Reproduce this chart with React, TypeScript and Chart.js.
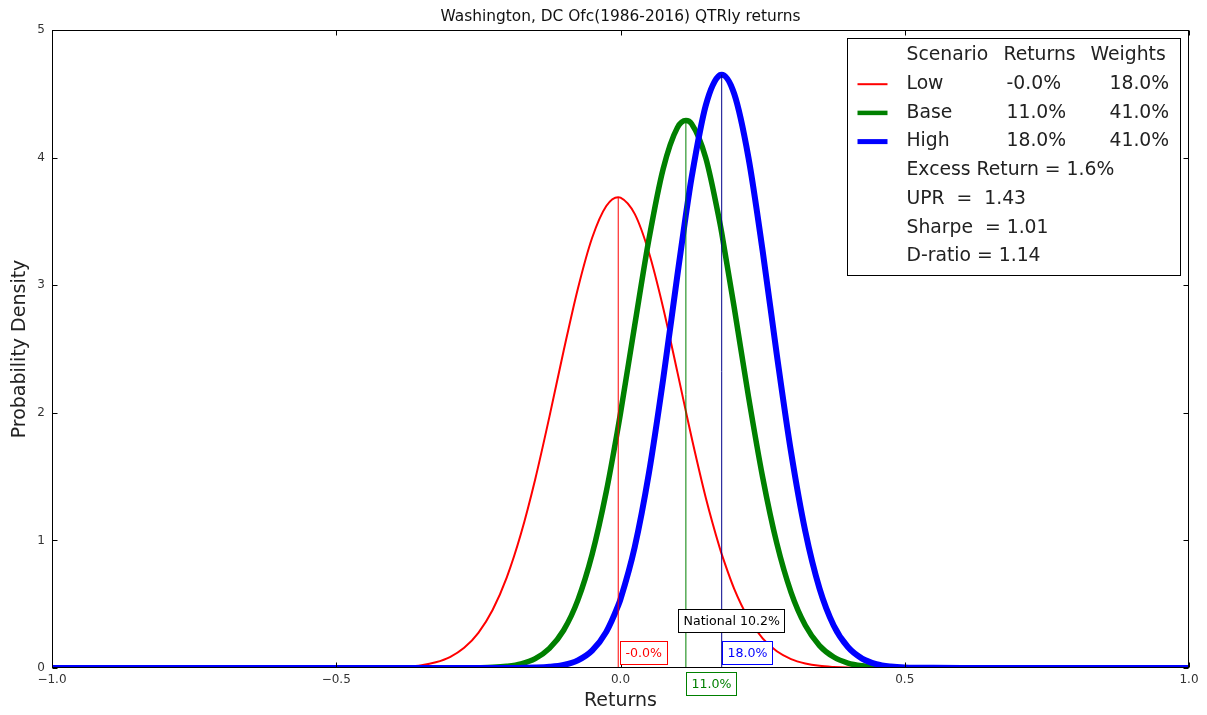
import React, { useEffect, useRef } from 'react';
import { Chart, registerables } from 'chart.js';

Chart.register(...registerables);

// ---- data ----
const returnsGrid = [
  -1.0, -0.6, -0.5, -0.45, -0.4, -0.375, -0.35, -0.325, -0.3, -0.275, -0.25, -0.225, -0.2, -0.175,
  -0.15, -0.125, -0.1, -0.075, -0.05, -0.025,
  -0.004, 0, 0.025, 0.05, 0.075, 0.1, 0.115, 0.125, 0.15, 0.175, 0.178,
  0.2, 0.225, 0.25, 0.275, 0.3, 0.325, 0.35, 0.375, 0.4, 0.425, 0.45, 0.475, 0.5,
  0.55, 0.6, 0.7, 1.0,
];
const lowDensity = [
  0, 0, 0, 0.001, 0.004, 0.01, 0.022, 0.045, 0.086, 0.158, 0.276, 0.455, 0.711, 1.054,
  1.48, 1.97, 2.486, 2.973, 3.37, 3.621,
  3.69, 3.687, 3.559, 3.256, 2.824, 2.321, 2.011, 1.808, 1.335, 0.934, 0.892,
  0.62, 0.39, 0.232, 0.131, 0.07, 0.036, 0.017, 0.008, 0.003, 0.001, 0, 0, 0,
  0, 0, 0, 0,
];
const baseDensity = [
  0, 0, 0, 0, 0, 0, 0, 0, 0, 0.001, 0.002, 0.005, 0.014, 0.033,
  0.074, 0.154, 0.296, 0.532, 0.889, 1.382,
  1.892, 1.997, 2.686, 3.36, 3.911, 4.234, 4.29, 4.265, 3.997, 3.484, 3.411,
  2.825, 2.131, 1.496, 0.976, 0.593, 0.335, 0.176, 0.086, 0.039, 0.017, 0.007, 0.002, 0.001,
  0, 0, 0, 0,
];
const highDensity = [
  0, 0, 0, 0, 0, 0, 0, 0, 0, 0, 0, 0, 0, 0.001,
  0.003, 0.009, 0.024, 0.06, 0.136, 0.283,
  0.49, 0.54, 0.948, 1.528, 2.262, 3.076, 3.551, 3.842, 4.409, 4.647, 4.65,
  4.5, 4.002, 3.27, 2.454, 1.692, 1.072, 0.624, 0.333, 0.164, 0.074, 0.031, 0.012, 0.004,
  0.001, 0, 0, 0,
];

const scenarioNames = ['Low', 'Base', 'High'];
const scenarioReturns = [-0.004, 0.115, 0.178];
const scenarioPeaks = [3.69, 4.29, 4.65];
const scenarioReturnLabels = ['-0.0%', '11.0%', '18.0%'];
const scenarioWeightLabels = ['18.0%', '41.0%', '41.0%'];
const statsLines = ['Excess Return = 1.6%', 'UPR  =  1.43', 'Sharpe  = 1.01', 'D-ratio = 1.14'];
const nationalReturn = 0.102;
const nationalLabel = 'National 10.2%';
const xTickValues = [-1.0, -0.5, 0.0, 0.5, 1.0];
const yTickValues = [0, 1, 2, 3, 4, 5];

const chartTitle = 'Washington, DC Ofc(1986-2016) QTRly returns';
const xAxisTitle = 'Returns';
const yAxisTitle = 'Probability Density';

// ---- styling ----
const FONT = '"DejaVu Sans", "Liberation Sans", sans-serif';
const scenarioColors = ['#ff0000', '#008000', '#0000ff'];
const meanLineColors = ['#ff0000', '#008000', '#00008b'];
const curveWidths = [2, 5.5, 6];
const legendSampleWidths = [2, 4.5, 5];
const scenarioLabelY = [0.12, -0.12, 0.12];
const scenarioLabelDx = [2, 0, 0];
const nationalLabelY = 0.37;

const fmtX = (v: number) => {
  const s = Math.abs(v).toFixed(1);
  return v < 0 ? '\u2212' + s : s;
};

const overlayPlugin = {
  id: 'overlay',
  afterDraw(chart: any) {
    const { ctx, chartArea: a, scales } = chart;
    const xs = scales.x;
    const ys = scales.y;
    ctx.save();

    // frame
    ctx.strokeStyle = '#000';
    ctx.lineWidth = 1;
    const L = Math.round(a.left) + 0.5;
    const R = Math.round(a.right) - 0.5;
    const T = Math.round(a.top) + 0.5;
    const B = Math.round(a.bottom) - 0.5;
    ctx.strokeRect(L, T, R - L, B - T);

    // inward tick marks on all four sides
    const tl = 5;
    ctx.beginPath();
    xTickValues.forEach((v) => {
      const px = Math.round(xs.getPixelForValue(v)) + 0.5;
      ctx.moveTo(px, B);
      ctx.lineTo(px, B - tl);
      ctx.moveTo(px, T);
      ctx.lineTo(px, T + tl);
    });
    yTickValues.forEach((v) => {
      const py = Math.round(ys.getPixelForValue(v)) + 0.5;
      ctx.moveTo(L, py);
      ctx.lineTo(L + tl, py);
      ctx.moveTo(R, py);
      ctx.lineTo(R - tl, py);
    });
    ctx.stroke();

    // title
    ctx.fillStyle = '#111';
    ctx.textAlign = 'center';
    ctx.textBaseline = 'middle';
    ctx.font = `15.4px ${FONT}`;
    ctx.fillText(chartTitle, (a.left + a.right) / 2, a.top - 13);

    // axis titles
    ctx.font = `19px ${FONT}`;
    ctx.fillStyle = '#222';
    ctx.fillText(xAxisTitle, (a.left + a.right) / 2, a.bottom + 33);
    ctx.save();
    ctx.translate(20, (a.top + a.bottom) / 2);
    ctx.rotate(-Math.PI / 2);
    ctx.fillText(yAxisTitle, 0, 0);
    ctx.restore();

    // annotation boxes
    const drawBox = (xv: number, dx: number, yv: number, text: string, color: string, textColor: string) => {
      ctx.font = `12.6px ${FONT}`;
      ctx.textAlign = 'left';
      ctx.textBaseline = 'middle';
      const w = Math.round(ctx.measureText(text).width + 10);
      const h = 23;
      const bx = Math.round(xs.getPixelForValue(xv) + dx) + 0.5;
      const cy = ys.getPixelForValue(yv);
      const by = Math.round(cy - h / 2) + 0.5;
      ctx.fillStyle = '#fff';
      ctx.fillRect(bx, by, w, h);
      ctx.strokeStyle = color;
      ctx.lineWidth = 1;
      ctx.strokeRect(bx, by, w, h);
      ctx.fillStyle = textColor;
      ctx.fillText(text, bx + 5, by + h / 2 + 0.5);
    };
    drawBox(nationalReturn, 0, nationalLabelY, nationalLabel, '#000', '#000');
    scenarioReturns.forEach((r, i) => {
      drawBox(r, scenarioLabelDx[i], scenarioLabelY[i], scenarioReturnLabels[i], scenarioColors[i], scenarioColors[i]);
    });

    // legend
    const lx = Math.round(a.right) - 342 + 0.5;
    const ly = Math.round(a.top) + 8 + 0.5;
    const lw = 333;
    const lh = 237;
    ctx.fillStyle = '#fff';
    ctx.fillRect(lx, ly, lw, lh);
    ctx.strokeStyle = '#000';
    ctx.lineWidth = 1;
    ctx.strokeRect(lx, ly, lw, lh);

    ctx.font = `18.8px ${FONT}`;
    ctx.textAlign = 'left';
    ctx.textBaseline = 'middle';
    ctx.fillStyle = '#222';
    const rowY = (i: number) => ly + 17 + i * 28.7;
    const colName = lx + 59;
    const colRet = lx + 159;
    const colW = lx + 262;
    ctx.fillText('Scenario', colName, rowY(0));
    ctx.fillText('Returns', lx + 156, rowY(0));
    ctx.fillText('Weights', lx + 243, rowY(0));
    scenarioNames.forEach((n, i) => {
      const y = rowY(i + 1);
      ctx.strokeStyle = scenarioColors[i];
      ctx.lineWidth = legendSampleWidths[i];
      ctx.beginPath();
      ctx.moveTo(lx + 10, y);
      ctx.lineTo(lx + 40, y);
      ctx.stroke();
      ctx.fillStyle = '#222';
      ctx.fillText(n, colName, y);
      ctx.fillText(scenarioReturnLabels[i], colRet, y);
      ctx.fillText(scenarioWeightLabels[i], colW, y);
    });
    statsLines.forEach((s, i) => {
      ctx.fillText(s, colName, rowY(i + 4));
    });

    ctx.restore();
  },
};

export default function App() {
  const canvasRef = useRef<HTMLCanvasElement | null>(null);

  useEffect(() => {
    const canvas = canvasRef.current;
    if (!canvas) return;

    const curveSets = [lowDensity, baseDensity, highDensity].map((vals, i) => ({
      label: scenarioNames[i],
      data: returnsGrid.map((x, k) => ({ x, y: vals[k] })),
      borderColor: scenarioColors[i],
      borderWidth: curveWidths[i],
      pointRadius: 0,
      fill: false,
      cubicInterpolationMode: 'monotone' as const,
      clip: 0,
      order: 3 - i,
    }));
    const verticalSets = scenarioReturns.map((r, i) => ({
      label: scenarioNames[i] + ' mean',
      data: [
        { x: r, y: 0 },
        { x: r, y: scenarioPeaks[i] },
      ],
      borderColor: meanLineColors[i],
      borderWidth: 1,
      pointRadius: 0,
      fill: false,
      clip: 0,
      order: 0,
    }));

    const chart = new Chart(canvas, {
      type: 'line',
      data: { datasets: [...curveSets, ...verticalSets] as any },
      options: {
        animation: false,
        responsive: false,
        devicePixelRatio: 1,
        parsing: false as any,
        layout: { padding: { top: 30, right: 18, bottom: 0, left: 0 } },
        plugins: {
          legend: { display: false },
          title: { display: false },
          tooltip: { enabled: false },
        },
        scales: {
          x: {
            type: 'linear',
            min: -1,
            max: 1,
            grid: { display: false, drawTicks: false },
            border: { display: false },
            ticks: {
              stepSize: 0.5,
              autoSkip: false,
              maxRotation: 0,
              padding: 5,
              color: '#333',
              font: { family: FONT, size: 12 },
              callback: (v: any) => fmtX(Number(v)),
            },
            afterFit: (s: any) => {
              s.height = 47;
              s.paddingLeft = 0;
              s.paddingRight = 0;
            },
          },
          y: {
            type: 'linear',
            min: 0,
            max: 5,
            grid: { display: false, drawTicks: false },
            border: { display: false },
            ticks: {
              stepSize: 1,
              padding: 7,
              color: '#333',
              font: { family: FONT, size: 12 },
              callback: (v: any) => String(v),
            },
            afterFit: (s: any) => {
              s.width = 52;
              s.paddingTop = 0;
              s.paddingBottom = 0;
            },
          },
        },
      },
      plugins: [overlayPlugin],
    });

    return () => chart.destroy();
  }, []);

  return (
    <div style={{ position: 'absolute', left: 0, top: 0, width: 1207, height: 715, background: '#fff' }}>
      <canvas ref={canvasRef} width={1207} height={715} style={{ display: 'block' }} />
    </div>
  );
}
